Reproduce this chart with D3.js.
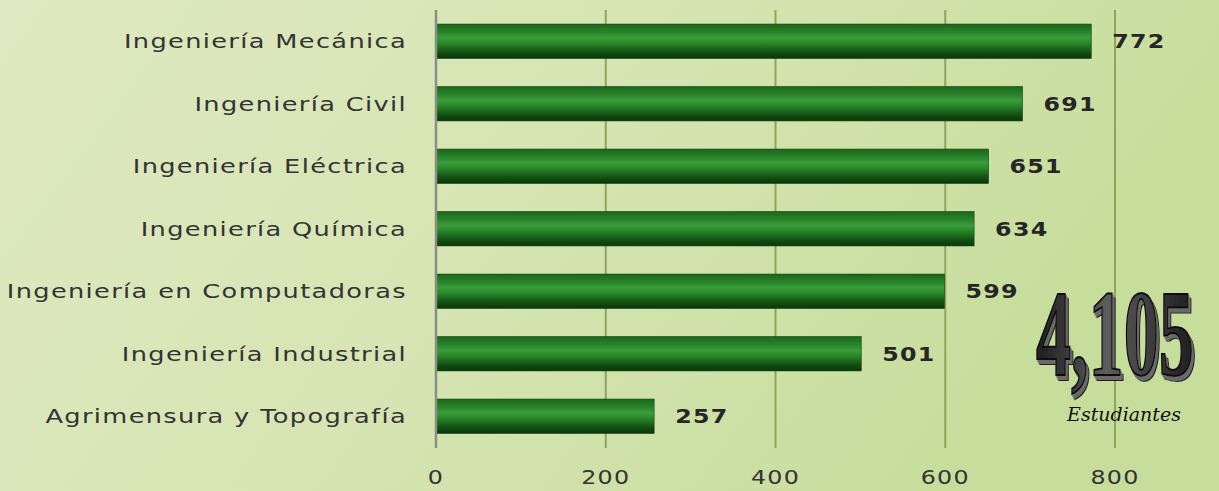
<!DOCTYPE html>
<html><head><meta charset="utf-8">
<script src="https://cdn.jsdelivr.net/npm/d3@7/dist/d3.min.js"></script>
<style>html,body{margin:0;padding:0;overflow:hidden;}svg{display:block;}</style>
</head><body>
<script>
const categories = ["Ingeniería Mecánica","Ingeniería Civil","Ingeniería Eléctrica","Ingeniería Química","Ingeniería en Computadoras","Ingeniería Industrial","Agrimensura y Topografía"];
const values = [772,691,651,634,599,501,257];
const ticks = [0,200,400,600,800];
const totalLabel = "4,105";
const totalSub = "Estudiantes";

const W=1219,H=491;
const svg=d3.select("body").append("svg").attr("width",W).attr("height",H);
const defs=svg.append("defs");
const bg=defs.append("linearGradient").attr("id","bg").attr("x1","0").attr("y1","0").attr("x2","1").attr("y2","0.3");
bg.append("stop").attr("offset","0").attr("stop-color","#dfe9c1");
bg.append("stop").attr("offset","0.5").attr("stop-color","#d6e5b3");
bg.append("stop").attr("offset","1").attr("stop-color","#c6dd9b");
svg.append("rect").attr("width",W).attr("height",H).attr("fill","url(#bg)");

const bar=defs.append("linearGradient").attr("id","bar").attr("x1","0").attr("y1","0").attr("x2","0").attr("y2","1");
[[0,"#1b661b"],[0.25,"#2a862a"],[0.4,"#3a9c3a"],[0.55,"#2a882a"],[0.8,"#145414"],[1,"#093609"]].forEach(s=>bar.append("stop").attr("offset",s[0]).attr("stop-color",s[1]));

const x=d3.scaleLinear().domain([0,800]).range([436,1115]);
const y=d3.scaleBand().domain(categories).range([10,447.5]).paddingInner(0.45).paddingOuter(0.225);

svg.append("g").selectAll("line").data(ticks.filter(t=>t>0)).join("line")
 .attr("x1",d=>x(d)).attr("x2",d=>x(d)).attr("y1",10).attr("y2",448)
 .attr("stroke","#8fa55a").attr("stroke-width",2);
svg.append("g").selectAll("rect").data(values).join("rect")
 .attr("x",x(0)).attr("y",(d,i)=>y(categories[i])).attr("width",d=>x(d)-x(0)).attr("height",y.bandwidth())
 .attr("fill","url(#bar)").attr("stroke","#0c3f0c").attr("stroke-width",0.6);
svg.append("line").attr("x1",x(0)).attr("x2",x(0)).attr("y1",10).attr("y2",448).attr("stroke","#8a8f86").attr("stroke-width",2.5);

const font="'DejaVu Sans',sans-serif";
svg.append("g").selectAll("text").data(categories).join("text")
 .attr("transform",d=>`translate(407,${y(d)+y.bandwidth()/2}) scale(1.35,1)`).attr("dy","0.36em").attr("text-anchor","end")
 .attr("font-family",font).attr("font-size",19).attr("letter-spacing","1px").attr("fill","#333").text(d=>d);
svg.append("g").selectAll("text").data(values).join("text")
 .attr("transform",(d,i)=>`translate(${x(d)+21},${y(categories[i])+y.bandwidth()/2}) scale(1.25,1)`).attr("dy","0.36em")
 .attr("font-family",font).attr("font-size",19).attr("font-weight","bold").attr("letter-spacing","1px").attr("fill","#262626").text(d=>d);
svg.append("g").selectAll("text").data(ticks).join("text")
 .attr("transform",d=>`translate(${x(d)},477) scale(1.25,1)`).attr("dy","0.36em").attr("text-anchor","middle")
 .attr("font-family",font).attr("font-size",19).attr("letter-spacing","1px").attr("fill","#333").text(d=>d);

const tg=defs.append("linearGradient").attr("id","tg").attr("x1","0").attr("y1","0").attr("x2","1").attr("y2","0");
[[0,"#1e1e1e"],[0.45,"#5c5c5c"],[1,"#1e1e1e"]].forEach(s=>tg.append("stop").attr("offset",s[0]).attr("stop-color",s[1]));
const f=defs.append("filter").attr("id","ext").attr("x","-10%").attr("y","-10%").attr("width","130%").attr("height","130%");
f.append("feFlood").attr("flood-color","#6a6a6a").attr("result","c");
f.append("feComposite").attr("in","c").attr("in2","SourceAlpha").attr("operator","in").attr("result","s");
f.append("feOffset").attr("in","s").attr("dx",2).attr("dy",2).attr("result","o1");
f.append("feOffset").attr("in","s").attr("dx",4).attr("dy",4).attr("result","o2");
f.append("feFlood").attr("flood-color","#222").attr("result","c2");
f.append("feComposite").attr("in","c2").attr("in2","SourceAlpha").attr("operator","in").attr("result","s2");
f.append("feOffset").attr("in","s2").attr("dx",5).attr("dy",5).attr("result","o3");
const m=f.append("feMerge");
["o3","o2","o1","SourceGraphic"].forEach(n=>m.append("feMergeNode").attr("in",n));

const bx=1036, by=375;
svg.append("text").attr("transform",`translate(${bx},${by}) scale(0.575,1)`).attr("font-family","'Liberation Serif','DejaVu Serif',serif").attr("font-size",122).attr("font-weight","bold")
 .attr("fill","url(#tg)").attr("stroke","#0a0a0a").attr("stroke-width",2).attr("filter","url(#ext)").text(totalLabel);
svg.append("text").attr("x",1124).attr("y",421).attr("text-anchor","middle").attr("font-family","'DejaVu Serif',serif")
 .attr("font-style","italic").attr("font-size",19).attr("fill","#111").text(totalSub);
</script>
</body></html>
